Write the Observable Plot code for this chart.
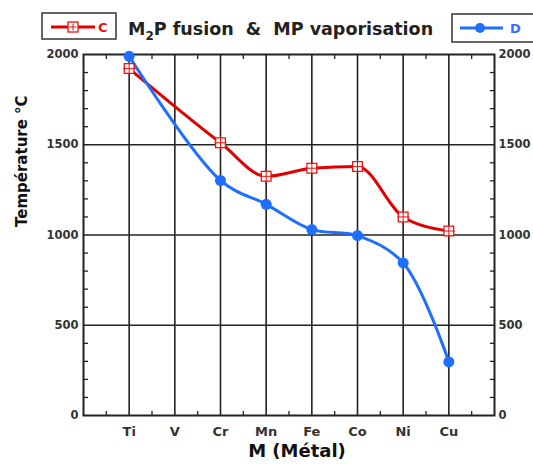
<!DOCTYPE html>
<html>
<head>
<meta charset="utf-8">
<script src="https://cdn.jsdelivr.net/npm/d3@7"></script>
<script src="https://cdn.jsdelivr.net/npm/@observablehq/plot@0.6"></script>
<style>
  body { margin: 0; background: #fff; }
  #wrap { position: relative; width: 533px; height: 471px; overflow: hidden; }
  #chart { position: absolute; left: 0; top: 0; }
  #header { position: absolute; left: 0; top: 0; }
  #header text { white-space: pre; }
</style>
</head>
<body>
<div id="wrap">
  <div id="chart"></div>
  <svg id="header" width="533" height="48" font-family="DejaVu Sans, sans-serif" font-weight="bold">
    <rect x="42" y="13" width="74" height="26" fill="#fff" stroke="#333" stroke-width="1.5"></rect>
    <line x1="51" y1="27" x2="95" y2="27" stroke="#e00000" stroke-width="3"></line>
    <rect x="68" y="22" width="10" height="10" fill="#fff" stroke="#ee1111" stroke-width="1.3"></rect>
    <path d="M73,23.5V30.5M69.5,27H76.5" stroke="#ee1111" stroke-width="1"></path>
    <text x="98" y="32" font-size="13" fill="#ee1111">C</text>
    <text x="128" y="35" font-size="17.5" fill="#222">M<tspan dy="5" font-size="12">2</tspan><tspan dy="-5">P fusion&#160;&#160;&amp;&#160;&#160;MP vaporisation</tspan></text>
    <rect x="452" y="14" width="100" height="28" fill="#fff" stroke="#333" stroke-width="1.5"></rect>
    <line x1="460" y1="28" x2="503" y2="28" stroke="#1f6fff" stroke-width="3"></line>
    <circle cx="480" cy="28" r="5" fill="#1f6fff"></circle>
    <text x="510" y="33" font-size="13" fill="#3a6eff">D</text>
  </svg>
</div>
<script>
// ---- data ----
const metals = ["Ti", "V", "Cr", "Mn", "Fe", "Co", "Ni", "Cu"];
const fusionM2P = [1922, null, 1511, 1325, 1370, 1380, 1100, 1022];   // C (red)
const vaporMP   = [1990, null, 1302, 1170, 1030, 997, 845, 297];      // D (blue)
const yMajor = [0, 500, 1000, 1500, 2000];
const yGrid = [500, 1000, 1500];
const yMinor = d3.range(0, 2001, 100).filter(v => v % 500 !== 0);

const idx = metals.map((m, i) => i);
const xMinor = d3.range(-0.5, 8, 1);
const C = idx.filter(i => fusionM2P[i] != null).map(i => ({i, v: fusionM2P[i]}));
const D = idx.filter(i => vaporMP[i] != null).map(i => ({i, v: vaporMP[i]}));

const red = "#e00000", redM = "#ee1111", blue = "#1f6fff", ink = "#222";

const chart = Plot.plot({
  width: 533,
  height: 471,
  marginLeft: 83,
  marginRight: 39,
  marginTop: 54,
  marginBottom: 56,
  x: {type: "linear", domain: [-1, 8]},
  y: {domain: [0, 2000]},
  style: {fontFamily: "DejaVu Sans, sans-serif", fontWeight: "bold", color: "#333", background: "#fff"},
  marks: [
    Plot.ruleX(idx, {x: d => d, stroke: ink, strokeWidth: 1.6}),
    Plot.ruleY(yGrid, {y: d => d, stroke: ink, strokeWidth: 1.6}),
    Plot.axisX({ticks: idx, tickFormat: i => metals[i], tickSize: 0, tickPadding: 11, fontSize: 13, label: null}),
    Plot.axisX({anchor: "bottom", ticks: xMinor, tickSize: -4, tickFormat: () => "", label: null, stroke: ink, strokeWidth: 1.3}),
    Plot.axisX({anchor: "top", ticks: xMinor, tickSize: -4, tickFormat: () => "", label: null, stroke: ink, strokeWidth: 1.3}),
    Plot.axisY({anchor: "left", ticks: yMajor, tickSize: 0, tickPadding: 5, fontSize: 11.5, tickFormat: d => String(d), label: null}),
    Plot.axisY({anchor: "right", ticks: yMajor, tickSize: 0, tickPadding: 4, fontSize: 11.5, tickFormat: d => String(d), label: null}),
    Plot.axisY({anchor: "left", ticks: yMinor, tickSize: -5, tickFormat: () => "", label: null, stroke: ink, strokeWidth: 1.3}),
    Plot.axisY({anchor: "right", ticks: yMinor, tickSize: -5, tickFormat: () => "", label: null, stroke: ink, strokeWidth: 1.3}),
    Plot.frame({stroke: ink, strokeWidth: 2}),
    Plot.line(C, {x: "i", y: "v", stroke: red, strokeWidth: 3, curve: "monotone-x"}),
    Plot.line(D, {x: "i", y: "v", stroke: blue, strokeWidth: 3, curve: "catmull-rom"}),
    Plot.dot(C, {x: "i", y: "v", symbol: "square", r: 5.5, fill: "white", stroke: redM, strokeWidth: 1.3}),
    Plot.dot(C, {x: "i", y: "v", symbol: "plus", r: 4, stroke: redM, strokeWidth: 1}),
    Plot.dot(D, {x: "i", y: "v", r: 5.5, fill: blue}),
    Plot.text(["Température °C"], {text: d => d, frameAnchor: "left", dx: -61, dy: -8, rotate: -90, fontSize: 15, fill: "#111"}),
    Plot.text(["M (Métal)"], {text: d => d, frameAnchor: "bottom", dx: 8, dy: 41, fontSize: 18, fill: "#111"})
  ]
});
document.getElementById("chart").appendChild(chart);
</script>
</body>
</html>
